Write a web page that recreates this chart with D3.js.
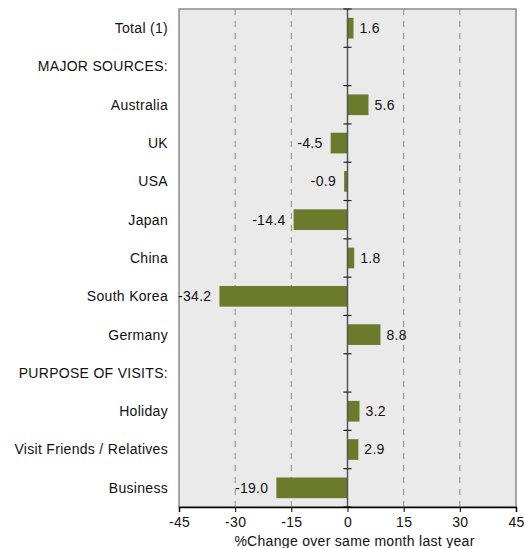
<!DOCTYPE html>
<html lang="en">
<head>
<meta charset="utf-8">
<title>%Change over same month last year</title>
<script src="https://d3js.org/d3.v7.min.js"></script>
<style>
  body { margin: 0; background: #fff; }
  text { font-family: "Liberation Sans", Arial, sans-serif; font-size: 14px; letter-spacing: 0.3px; fill: #111; }
</style>
</head>
<body>
<script>
// Categories and values
var categories = ["Total (1)", "MAJOR SOURCES:", "Australia", "UK", "USA", "Japan", "China",
  "South Korea", "Germany", "PURPOSE OF VISITS:", "Holiday", "Visit Friends / Relatives", "Business"];
var values = [1.6, null, 5.6, -4.5, -0.9, -14.4, 1.8, -34.2, 8.8, null, 3.2, 2.9, -19.0];
var xTicks = [-45, -30, -15, 0, 15, 30, 45];
var gridTicks = [-30, -15, 15, 30];
var xTitle = "%Change over same month last year";

var w = 525, h = 548;
var margin = { top: 9, right: 9, bottom: 41, left: 179 };

var svg = d3.select("body").append("svg")
  .attr("width", w)
  .attr("height", h);

var x = d3.scaleLinear().domain([-45, 45]).range([margin.left, w - margin.right]);
var y = d3.scaleBand().domain(d3.range(categories.length))
  .range([margin.top, h - margin.bottom])
  .paddingInner(0.46).paddingOuter(0.23);

var plotTop = margin.top, plotBottom = h - margin.bottom;

// plot background
svg.append("rect")
  .attr("x", x(-45)).attr("y", plotTop)
  .attr("width", x(45) - x(-45)).attr("height", plotBottom - plotTop)
  .attr("fill", "#eaeaea")
  .attr("stroke", "#8c8c8c")
  .attr("stroke-width", 1.5);

// dashed grid
svg.selectAll(".grid").data(gridTicks).enter().append("line")
  .attr("x1", function(d) { return x(d); }).attr("x2", function(d) { return x(d); })
  .attr("y1", plotTop).attr("y2", plotBottom)
  .attr("stroke", "#8a8a8a")
  .attr("stroke-dasharray", "6,6");

// bars
categories.forEach(function(c, i) {
  var v = values[i];
  if (v === null) return;
  svg.append("rect")
    .attr("x", x(Math.min(0, v)))
    .attr("y", y(i))
    .attr("width", Math.abs(x(v) - x(0)))
    .attr("height", y.bandwidth())
    .attr("fill", "#6b7a2b");
});

// zero axis with ticks at band boundaries
svg.append("line")
  .attr("x1", x(0)).attr("x2", x(0))
  .attr("y1", plotTop).attr("y2", plotBottom)
  .attr("stroke", "#555").attr("stroke-width", 1.5);

var bounds = d3.range(categories.length + 1).map(function(i) {
  return plotTop + i * (plotBottom - plotTop) / categories.length;
});
svg.selectAll(".ztick").data(bounds).enter().append("line")
  .attr("x1", x(0) - 4).attr("x2", x(0) + 4)
  .attr("y1", function(d) { return d; }).attr("y2", function(d) { return d; })
  .attr("stroke", "#222").attr("stroke-width", 1.2);

// value labels
categories.forEach(function(c, i) {
  var v = values[i];
  if (v === null) return;
  svg.append("text")
    .attr("x", v >= 0 ? x(v) + 6 : x(v) - 8)
    .attr("y", y(i) + y.bandwidth() / 2)
    .attr("dy", "0.35em")
    .attr("text-anchor", v >= 0 ? "start" : "end")
    .text(v.toFixed(1));
});

// category labels
svg.selectAll(".cat").data(categories).enter().append("text")
  .attr("x", margin.left - 11)
  .attr("y", function(d, i) { return y(i) + y.bandwidth() / 2; })
  .attr("dy", "0.35em")
  .attr("text-anchor", "end")
  .text(function(d) { return d; });

// bottom axis
var xAxis = d3.axisBottom(x).tickValues(xTicks).tickSize(5).tickPadding(5)
  .tickFormat(function(d) { return String(d); });
var gx = svg.append("g")
  .attr("transform", "translate(0," + plotBottom + ")")
  .call(xAxis);
gx.select(".domain").attr("stroke", "#000").attr("stroke-width", 1.5);
gx.selectAll(".tick line").attr("stroke", "#000");
gx.selectAll("text").attr("font-family", null).attr("font-size", null).style("fill", "#111");

svg.append("text")
  .attr("x", x(0) + 7)
  .attr("y", h - 2)
  .attr("text-anchor", "middle")
  .text(xTitle);
</script>
</body>
</html>
